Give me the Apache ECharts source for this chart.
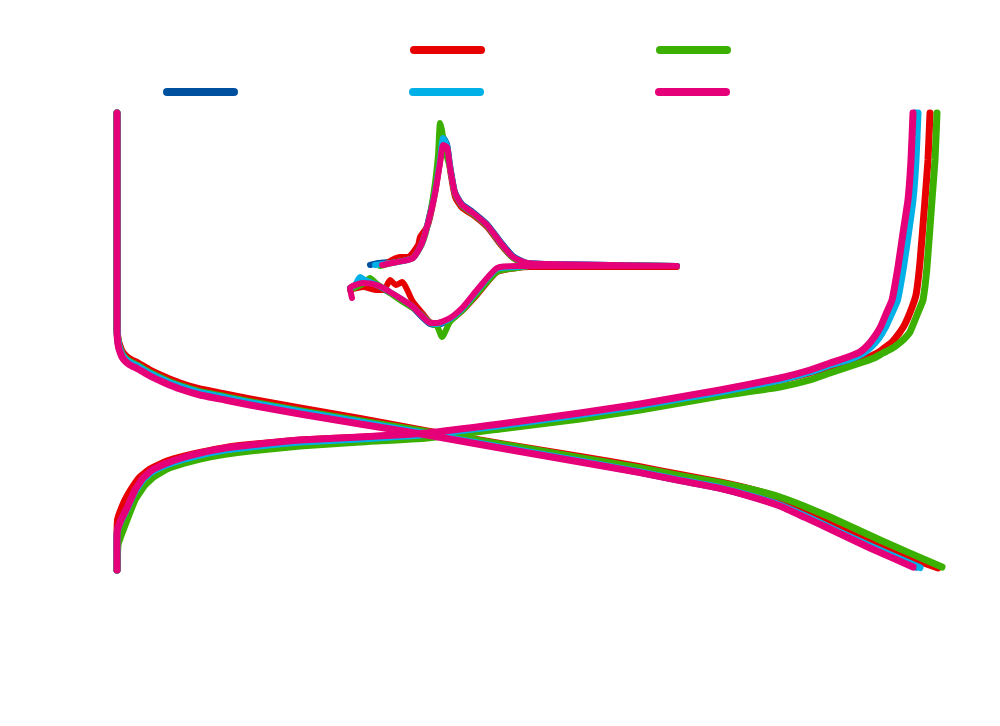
<!DOCTYPE html>
<html>
<head>
<meta charset="utf-8">
<script src="https://cdn.jsdelivr.net/npm/echarts@6/dist/echarts.min.js"></script>
<style>html,body{margin:0;padding:0;background:#fff;}#main{width:1000px;height:726px;}</style>
</head>
<body>
<div id="main"></div>
<script>
// Series names and colours
const seriesNames = ['Cycle 1', 'Cycle 2', 'Cycle 3', 'Cycle 4', 'Cycle 5'];
const seriesColors = ['#0050a0', '#e60000', '#3cb000', '#00b0e6', '#e5007a'];
const legendRow1 = ['Cycle 2', 'Cycle 3'];
const legendRow2 = ['Cycle 1', 'Cycle 4', 'Cycle 5'];

// Main panel: [capacity, voltage]
const blueDischarge = [[0,3.335],[0,2.65],[0,2.26],[0.1,2.21],[0.3,2.173],[0.6,2.148],[1.0,2.123],[1.6,2.103],[2.6,2.083],[4.2,2.063],[6.6,2.028],[9.6,1.993],[12.6,1.963],[16.6,1.933],[21.6,1.908],[26.6,1.883],[36.6,1.838],[48.6,1.788],[62.0,1.73],[76.6,1.664],[92.6,1.594],[104.6,1.539],[112.6,1.498],[120.6,1.46],[126.6,1.42],[132.6,1.372],[137.6,1.316],[142.6,1.257],[150.6,1.165],[159.8,1.065]];
const blueCharge = [[0,1.05],[0,1.175],[0.1,1.248],[0.8,1.297],[2.0,1.356],[3.6,1.445],[5.2,1.504],[7.0,1.543],[10.0,1.578],[13.6,1.607],[16.6,1.627],[21.6,1.652],[26.6,1.667],[36.6,1.692],[48.6,1.707],[62.0,1.728],[76.6,1.773],[92.6,1.828],[104.6,1.873],[112.6,1.908],[120.6,1.943],[132.6,2.003],[138.6,2.043],[142.6,2.078],[146.2,2.107],[148.6,2.13],[150.4,2.16],[151.8,2.205],[153.0,2.255],[154.1,2.32],[155.5,2.40],[156.8,2.565],[157.8,2.735],[158.7,2.9],[159.3,3.1],[159.6,3.335]];

const redDischarge = [[0,3.335],[0,2.65],[0,2.28],[0.1,2.23],[0.3,2.195],[0.6,2.17],[1.0,2.145],[1.6,2.125],[2.6,2.105],[4.2,2.085],[6.6,2.05],[9.6,2.015],[12.6,1.985],[16.6,1.955],[21.6,1.93],[26.6,1.905],[36.6,1.86],[48.6,1.808],[62.0,1.745],[76.6,1.683],[92.6,1.618],[104.6,1.566],[112.6,1.528],[120.6,1.49],[126.6,1.455],[132.6,1.41],[137.6,1.352],[142.6,1.29],[152.6,1.165],[164.2,1.06]];
const redCharge = [[0,1.05],[0,1.2],[0.1,1.30],[0.6,1.34],[1.6,1.40],[3.0,1.46],[4.6,1.515],[6.6,1.555],[10.0,1.595],[13.6,1.62],[16.6,1.638],[21.6,1.662],[26.6,1.677],[36.6,1.70],[48.6,1.714],[62.0,1.733],[76.6,1.777],[92.6,1.832],[104.6,1.877],[112.6,1.91],[120.6,1.943],[132.6,2.0],[138.6,2.036],[142.6,2.065],[146.2,2.085],[149.2,2.10],[152.4,2.14],[155.0,2.19],[156.6,2.24],[157.6,2.28],[158.8,2.35],[159.8,2.425],[160.6,2.59],[161.6,2.90],[162.2,3.10],[162.6,3.335]];

const greenDischarge = [[0,3.335],[0,2.65],[0,2.27],[0.1,2.22],[0.3,2.183],[0.6,2.157],[1.0,2.132],[1.6,2.112],[2.6,2.092],[4.2,2.072],[6.6,2.037],[9.6,2.002],[12.6,1.972],[16.6,1.942],[21.6,1.917],[26.6,1.892],[36.6,1.847],[48.6,1.797],[62.0,1.742],[76.6,1.68],[92.6,1.612],[104.6,1.56],[112.6,1.522],[120.6,1.487],[126.6,1.455],[132.6,1.415],[137.6,1.368],[142.6,1.315],[152.6,1.20],[165.0,1.065]];
const greenCharge = [[0,1.05],[0.2,1.175],[1.0,1.235],[2.0,1.30],[3.6,1.40],[5.6,1.475],[7.6,1.52],[10.0,1.555],[13.6,1.585],[16.6,1.605],[21.6,1.628],[26.6,1.645],[36.6,1.67],[48.6,1.69],[62.0,1.71],[76.6,1.755],[92.6,1.805],[104.6,1.85],[112.6,1.885],[120.6,1.92],[132.6,1.965],[138.6,2.0],[142.6,2.035],[146.2,2.065],[149.2,2.09],[151.4,2.11],[153.2,2.135],[154.8,2.155],[156.0,2.175],[157.4,2.205],[158.6,2.24],[159.6,2.30],[160.4,2.35],[161.2,2.40],[162.0,2.565],[163.0,2.90],[163.6,3.10],[164.0,3.335]];

const cyanDischarge = [[0,3.335],[0,2.65],[0,2.265],[0.1,2.215],[0.3,2.178],[0.6,2.152],[1.0,2.127],[1.6,2.107],[2.6,2.087],[4.2,2.067],[6.6,2.032],[9.6,1.997],[12.6,1.967],[16.6,1.937],[21.6,1.912],[26.6,1.887],[36.6,1.841],[48.6,1.79],[62.0,1.731],[76.6,1.665],[92.6,1.595],[104.6,1.54],[112.6,1.5],[120.6,1.462],[126.6,1.422],[132.6,1.375],[137.6,1.32],[142.6,1.262],[150.6,1.17],[160.6,1.062]];
const cyanCharge = [[0,1.05],[0,1.175],[0.1,1.247],[0.8,1.296],[2.0,1.355],[3.6,1.443],[5.2,1.502],[7.0,1.541],[10.0,1.576],[13.6,1.605],[16.6,1.625],[21.6,1.65],[26.6,1.665],[36.6,1.69],[48.6,1.705],[62.0,1.727],[76.6,1.771],[92.6,1.826],[104.6,1.871],[112.6,1.906],[120.6,1.94],[132.6,2.0],[138.6,2.04],[142.6,2.075],[146.4,2.103],[149.0,2.13],[150.8,2.165],[152.4,2.21],[153.6,2.26],[154.7,2.32],[156.1,2.40],[157.3,2.565],[158.3,2.735],[159.2,2.9],[159.8,3.1],[160.2,3.335]];

const pinkDischarge = [[0,3.335],[0,2.65],[0,2.25],[0.1,2.2],[0.3,2.165],[0.6,2.14],[1.0,2.115],[1.6,2.095],[2.6,2.075],[4.2,2.055],[6.6,2.02],[9.6,1.985],[12.6,1.955],[16.6,1.925],[21.6,1.90],[26.6,1.875],[36.6,1.83],[48.6,1.78],[62.0,1.725],[76.6,1.66],[92.6,1.59],[104.6,1.537],[112.6,1.497],[120.6,1.458],[126.6,1.418],[132.6,1.37],[137.6,1.313],[142.6,1.255],[150.6,1.16],[159.2,1.065]];
const pinkCharge = [[0,1.05],[0,1.175],[0.1,1.25],[0.8,1.30],[2.0,1.36],[3.6,1.45],[5.2,1.51],[7.0,1.55],[10.0,1.585],[13.6,1.615],[16.6,1.635],[21.6,1.66],[26.6,1.675],[36.6,1.70],[48.6,1.715],[62.0,1.735],[76.6,1.78],[92.6,1.835],[104.6,1.88],[112.6,1.915],[120.6,1.95],[132.6,2.01],[138.6,2.05],[142.6,2.085],[146.2,2.115],[148.6,2.14],[150.2,2.175],[151.6,2.22],[152.8,2.27],[153.8,2.33],[155.0,2.40],[156.2,2.565],[157.2,2.735],[158.2,2.90],[158.8,3.10],[159.2,3.335]];

// Inset: cyclic voltammetry [potential, current]
const blueCV = [[-0.20,-0.35],[-0.12,-0.33],[0.07,-0.31],[0.23,-0.27],[0.32,-0.12],[0.38,0.08],[0.45,0.40],[0.50,0.72],[0.53,0.93],[0.57,0.86],[0.60,0.65],[0.65,0.38],[0.72,0.26],[0.83,0.18],[0.97,0.06],[1.10,-0.11],[1.23,-0.26],[1.37,-0.33],[1.57,-0.34],[2.20,-0.35],[2.87,-0.36],[2.20,-0.36],[1.40,-0.36],[1.27,-0.37],[1.07,-0.40],[0.87,-0.62],[0.73,-0.79],[0.60,-0.90],[0.47,-0.95],[0.40,-0.94],[0.33,-0.88],[0.23,-0.78],[0.13,-0.71],[0.00,-0.63],[-0.13,-0.56],[-0.27,-0.55],[-0.40,-0.59]];
const redCV = [[-0.06,-0.35],[0.02,-0.30],[0.10,-0.27],[0.18,-0.27],[0.28,-0.15],[0.30,-0.07],[0.38,0.05],[0.45,0.36],[0.50,0.68],[0.53,0.86],[0.57,0.82],[0.60,0.60],[0.65,0.33],[0.72,0.22],[0.83,0.15],[0.97,0.03],[1.10,-0.14],[1.23,-0.28],[1.37,-0.35],[1.57,-0.35],[2.20,-0.36],[2.87,-0.37],[2.20,-0.37],[1.40,-0.37],[1.27,-0.38],[1.07,-0.42],[0.87,-0.65],[0.73,-0.80],[0.60,-0.90],[0.47,-0.93],[0.40,-0.92],[0.33,-0.84],[0.23,-0.72],[0.12,-0.52],[0.06,-0.55],[0.00,-0.50],[-0.06,-0.60],[-0.13,-0.60],[-0.27,-0.57],[-0.40,-0.60]];
const greenCV = [[-0.10,-0.36],[0.07,-0.32],[0.23,-0.28],[0.32,-0.14],[0.38,0.06],[0.44,0.40],[0.48,0.75],[0.50,1.07],[0.52,1.00],[0.55,0.80],[0.60,0.62],[0.65,0.36],[0.72,0.24],[0.83,0.16],[0.97,0.04],[1.10,-0.13],[1.23,-0.28],[1.37,-0.34],[1.57,-0.35],[2.20,-0.35],[2.87,-0.36],[2.20,-0.36],[1.40,-0.36],[1.27,-0.38],[1.07,-0.42],[0.87,-0.64],[0.73,-0.80],[0.60,-0.92],[0.52,-1.07],[0.47,-0.96],[0.40,-0.93],[0.33,-0.86],[0.23,-0.78],[0.13,-0.72],[0.00,-0.63],[-0.13,-0.54],[-0.20,-0.48],[-0.27,-0.54],[-0.40,-0.60]];
const cyanCV = [[-0.15,-0.35],[0.07,-0.32],[0.23,-0.28],[0.32,-0.13],[0.38,0.07],[0.45,0.38],[0.50,0.70],[0.53,0.92],[0.57,0.85],[0.60,0.64],[0.65,0.37],[0.72,0.25],[0.83,0.17],[0.97,0.05],[1.10,-0.12],[1.23,-0.27],[1.37,-0.33],[1.57,-0.34],[2.20,-0.35],[2.87,-0.36],[2.20,-0.36],[1.40,-0.36],[1.27,-0.37],[1.07,-0.39],[0.87,-0.61],[0.73,-0.78],[0.60,-0.89],[0.47,-0.94],[0.40,-0.93],[0.33,-0.87],[0.23,-0.77],[0.13,-0.70],[0.00,-0.62],[-0.13,-0.55],[-0.25,-0.50],[-0.30,-0.47],[-0.35,-0.55],[-0.40,-0.58]];
const pinkCV = [[-0.08,-0.35],[0.07,-0.32],[0.23,-0.28],[0.32,-0.13],[0.38,0.07],[0.45,0.37],[0.50,0.67],[0.53,0.85],[0.57,0.83],[0.60,0.63],[0.65,0.37],[0.72,0.25],[0.83,0.17],[0.97,0.05],[1.10,-0.12],[1.23,-0.27],[1.37,-0.33],[1.57,-0.34],[2.20,-0.35],[2.87,-0.36],[2.20,-0.36],[1.40,-0.36],[1.27,-0.36],[1.07,-0.38],[0.87,-0.60],[0.73,-0.77],[0.60,-0.88],[0.47,-0.93],[0.40,-0.93],[0.33,-0.87],[0.23,-0.77],[0.13,-0.70],[0.00,-0.62],[-0.13,-0.55],[-0.27,-0.53],[-0.40,-0.58],[-0.38,-0.68]];

const mainData = [
  [blueDischarge, blueCharge],
  [redDischarge, redCharge],
  [greenDischarge, greenCharge],
  [cyanDischarge, cyanCharge],
  [pinkDischarge, pinkCharge]
];
const cvData = [blueCV, redCV, greenCV, cyanCV, pinkCV];

const series = [];
seriesNames.forEach((name, i) => {
  const joined = mainData[i][0].concat([[null, null]], mainData[i][1]);
  series.push({
    name: name, type: 'line', xAxisIndex: 0, yAxisIndex: 0,
    data: joined, showSymbol: false, connectNulls: false, smooth: 0.12,
    color: seriesColors[i],
    lineStyle: { width: 7, color: seriesColors[i], cap: 'round', join: 'round' },
    z: 2 + i
  });
  series.push({
    name: name, type: 'line', xAxisIndex: 1, yAxisIndex: 1,
    data: cvData[i], showSymbol: false, smooth: 0.2,
    color: seriesColors[i],
    lineStyle: { width: 6, color: seriesColors[i], cap: 'round', join: 'round' },
    z: 2 + i
  });
});

const pill = 'path://M4,0H71A4,4,0,0,1,71,8H4A4,4,0,0,1,4,0Z';
const legendBase = {
  orient: 'horizontal', padding: 0, itemWidth: 75, itemHeight: 8, itemGap: 30,
  icon: pill, selectedMode: false,
  textStyle: { color: '#ffffff', fontSize: 8, lineHeight: 8, width: 136, overflow: 'truncate' }
};

const chart = echarts.init(document.getElementById('main'), null, { renderer: 'canvas' });
chart.setOption({
  animation: false,
  backgroundColor: '#ffffff',
  legend: [
    Object.assign({}, legendBase, { data: legendRow1, left: 410, top: 46 }),
    Object.assign({}, legendBase, { data: legendRow2, left: 163, top: 88 })
  ],
  grid: [
    { left: 117, top: 100, width: 830, height: 480, containLabel: false },
    { left: 340, top: 110, width: 350, height: 240, containLabel: false }
  ],
  xAxis: [
    { type: 'value', gridIndex: 0, min: 0, max: 166, show: false, splitLine: { show: false } },
    { type: 'value', gridIndex: 1, min: -0.5, max: 3.0, show: false, splitLine: { show: false } }
  ],
  yAxis: [
    { type: 'value', gridIndex: 0, min: 1.0, max: 3.4, show: false, splitLine: { show: false } },
    { type: 'value', gridIndex: 1, min: -1.2, max: 1.2, show: false, splitLine: { show: false } }
  ],
  series: series
});
</script>
</body>
</html>
